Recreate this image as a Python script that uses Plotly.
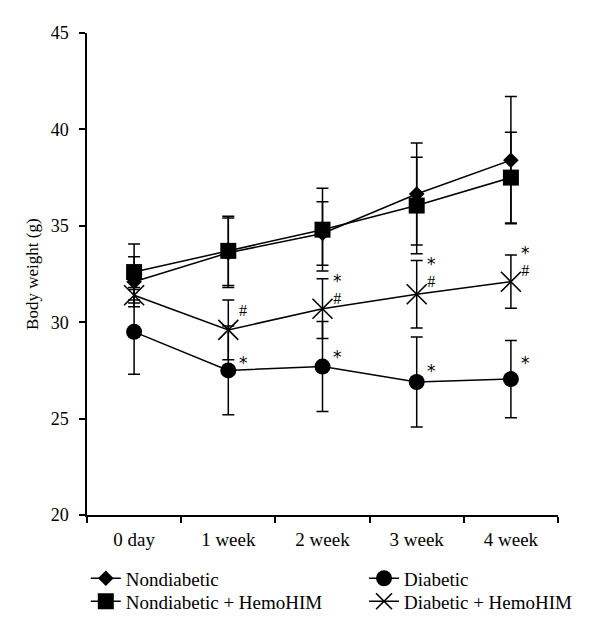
import plotly.graph_objects as go

categories = ["0 day", "1 week", "2 week", "3 week", "4 week"]

nondiabetic = [32.1, 33.6, 34.6, 36.65, 38.4]
nondiabetic_err = [1.3, 1.8, 1.65, 2.65, 3.3]

nondiabetic_hemo = [32.6, 33.7, 34.8, 36.05, 37.5]
nondiabetic_hemo_err = [1.45, 1.8, 2.15, 2.5, 2.35]

diabetic = [29.5, 27.5, 27.7, 26.9, 27.05]
diabetic_err = [2.2, 2.3, 2.33, 2.33, 2.0]

diabetic_hemo = [31.4, 29.6, 30.7, 31.45, 32.1]
diabetic_hemo_err = [0.4, 1.55, 1.55, 1.75, 1.38]

# significance marks for Diabetic + HemoHIM (text, y position in data units)
hemo_marks = [None, "#", "*<br>#", "*<br>#", "*<br>#"]
hemo_marks_y = [None, 30.6, 31.7, 32.6, 33.2]
# significance marks for Diabetic
diab_marks = [None, "*", "*", "*", "*"]
diab_marks_y = [None, 27.86, 28.17, 27.45, 27.9]

y_ticks = [20, 25, 30, 35, 40, 45]
y_title = "Body weight (g)"

FONT = "Liberation Serif"
BLACK = "black"

fig = go.Figure()


def add(name, y, err, symbol, size, legend, open_sym=False):
    marker = dict(symbol=symbol, size=size, color=BLACK)
    if open_sym:
        marker["line"] = dict(color=BLACK, width=1.6)
    fig.add_trace(go.Scatter(
        x=categories, y=y, name=name, mode="lines+markers",
        line=dict(color=BLACK, width=1.5),
        marker=marker,
        error_y=dict(type="data", array=err, visible=True,
                     color=BLACK, thickness=1.5, width=6),
        legend=legend,
    ))


add("Nondiabetic", nondiabetic, nondiabetic_err, "diamond", 12, "legend2")
add("Nondiabetic + HemoHIM", nondiabetic_hemo, nondiabetic_hemo_err, "square", 16, "legend3")
add("Diabetic", diabetic, diabetic_err, "circle", 16, "legend4")
add("Diabetic + HemoHIM", diabetic_hemo, diabetic_hemo_err, "x-thin-open", 20, "legend5", open_sym=True)


def styled(txt):
    txt = txt.replace("*", "<span style='font-family:DejaVu Sans;font-size:17px'>*</span>")
    return txt.replace("#", "<span style='font-size:16px'>#</span>")


annotations = []
for marks, ys in [(hemo_marks, hemo_marks_y), (diab_marks, diab_marks_y)]:
    for c, t, v in zip(categories, marks, ys):
        if t is None:
            continue
        annotations.append(dict(
            x=c, y=v, xref="x", yref="y", text=styled(t), showarrow=False,
            xshift=15, align="center",
            font=dict(family=FONT, size=13, color="#000000"),
        ))

annotations.append(dict(
    x=-0.117, y=0.5, xref="paper", yref="paper", text=y_title,
    textangle=-90, showarrow=False, xanchor="center", yanchor="middle",
    font=dict(family=FONT, size=17, color=BLACK),
))


def legend_at(x, y):
    return dict(
        x=x, y=y, xref="container", yref="container",
        orientation="v", yanchor="top", xanchor="left",
        font=dict(family=FONT, size=19, color=BLACK),
        bgcolor="rgba(0,0,0,0)", itemwidth=30,
    )


fig.update_layout(
    width=592, height=630,
    margin=dict(l=79, r=42, t=25, b=123, autoexpand=False),
    paper_bgcolor="white", plot_bgcolor="white",
    font=dict(family=FONT, size=18, color=BLACK),
    annotations=annotations,
    legend2=legend_at(0.1314, 0.1248),
    legend3=legend_at(0.1314, 0.0883),
    legend4=legend_at(0.6014, 0.1248),
    legend5=legend_at(0.6014, 0.0883),
    xaxis=dict(
        type="category", range=[-0.5, 4.5], automargin=False,
        showline=True, linecolor=BLACK, linewidth=1.5,
        ticks="outside", tickson="boundaries", ticklen=6,
        tickcolor=BLACK, tickwidth=1.5, ticklabelstandoff=6,
        showgrid=False, zeroline=False,
        tickfont=dict(family=FONT, size=19, color=BLACK),
    ),
    yaxis=dict(
        range=[20, 45], tickvals=y_ticks, automargin=False,
        showline=True, linecolor=BLACK, linewidth=1.5,
        ticks="outside", ticklen=6, tickcolor=BLACK, tickwidth=1.5,
        ticklabelstandoff=7,
        showgrid=False, zeroline=False,
        tickfont=dict(family=FONT, size=18, color=BLACK),
    ),
)

fig.write_html("out.html")
